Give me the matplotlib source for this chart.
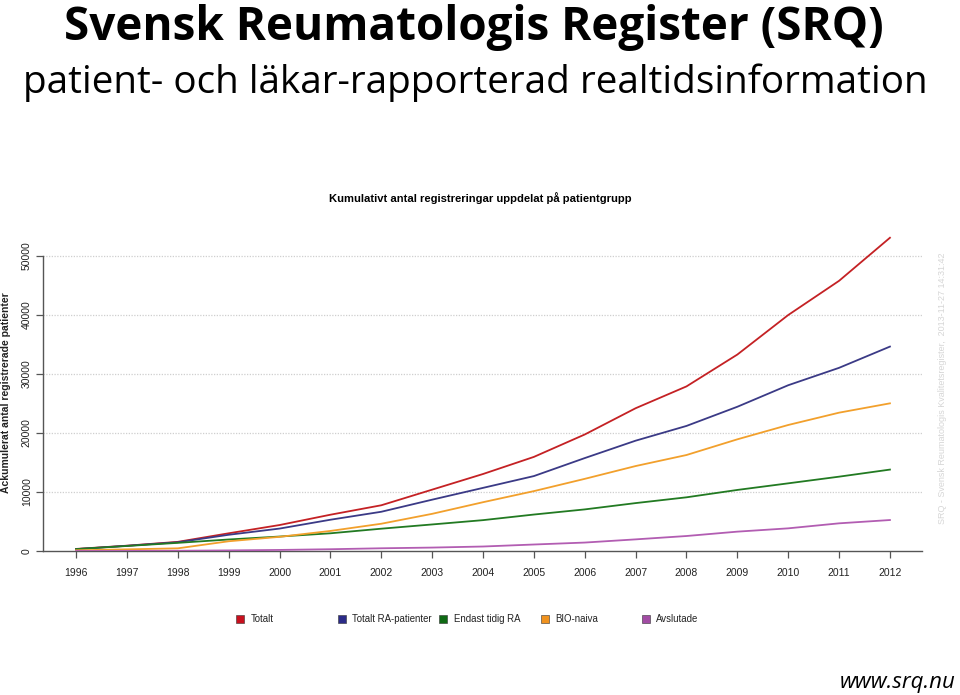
import matplotlib
matplotlib.use('Agg')
import matplotlib.pyplot as plt
from matplotlib.lines import Line2D

# data
years = list(range(1996, 2013))
totalt = [350, 900, 1550, 3000, 4400, 6150, 7750, 10400, 13050, 15950, 19750, 24200, 27900, 33300, 40000, 45800, 53100]
totalt_ra = [320, 880, 1480, 2750, 3800, 5300, 6650, 8700, 10700, 12700, 15750, 18700, 21200, 24450, 28100, 31050, 34650]
endast_tidig = [320, 850, 1380, 1950, 2450, 3000, 3780, 4500, 5230, 6180, 7050, 8120, 9100, 10350, 11470, 12600, 13800]
bio_naiva = [120, 280, 450, 1650, 2400, 3400, 4620, 6300, 8270, 10150, 12230, 14400, 16270, 18930, 21360, 23450, 25030]
avslutade = [0, 10, 40, 100, 180, 300, 460, 580, 760, 1100, 1430, 1970, 2540, 3280, 3840, 4690, 5250]

series = [
    ('Totalt', totalt, '#C42124', '#C8101E'),
    ('Totalt RA-patienter', totalt_ra, '#3B3A86', '#2B2B88'),
    ('Endast tidig RA', endast_tidig, '#227A22', '#0F6A14'),
    ('BIO-naiva', bio_naiva, '#F2A02C', '#F0921E'),
    ('Avslutade', avslutade, '#B25DB2', '#A24CA4'),
]
yticks = [0, 10000, 20000, 30000, 40000, 50000]

plt.rcParams['font.family'] = ['Liberation Sans', 'DejaVu Sans']

fig = plt.figure(figsize=(9.6, 6.95), dpi=100)
ax = fig.add_axes([0.0448, 0.2072, 0.9156, 0.4541])

for ytick in yticks[1:]:
    ax.axhline(ytick, color='#cfcfcf', lw=0.9, ls=(0, (1, 1.2)), zorder=1)

for name, vals, col, _ in series:
    ax.plot(years, vals, color=col, lw=1.3, zorder=3)

ax.set_xlim(1995.35, 2012.63)
ax.set_ylim(0, 53500)
ax.spines['top'].set_visible(False)
ax.spines['right'].set_visible(False)
ax.spines['left'].set_bounds(0, 50000)
for s in ('left', 'bottom'):
    ax.spines[s].set_color('#555555')
    ax.spines[s].set_linewidth(1.0)

ax.set_xticks(years)
ax.set_xticklabels([str(y) for y in years], fontsize=7.5)
ax.set_yticks(yticks)
ax.set_yticklabels([str(t) for t in yticks], fontsize=7.5, rotation=90, va='center')
ax.tick_params(axis='both', colors='#555555', labelcolor='#222222', length=5, width=0.9)
ax.tick_params(axis='x', pad=7)
ax.tick_params(axis='y', pad=3)

fig.text(0.0062, 0.4345, 'Ackumulerat antal registrerade patienter', rotation=90,
         ha='center', va='center', fontsize=7.5, fontweight='bold', color='#222222')

fig.text(0.5, 0.715, 'Kumulativt antal registreringar uppdelat på patientgrupp',
         ha='center', va='center', fontsize=8.1, fontweight='bold',
         family=['Liberation Sans Narrow', 'Liberation Sans'])

# legend with fixed column spacing
lx0, ldx, ly = 0.2505, 0.1057, 0.109
for i, (name, vals, _, sq) in enumerate(series):
    x = lx0 + i * ldx
    fig.add_artist(Line2D([x], [ly], marker='s', markersize=6, color=sq,
                          markeredgecolor='#333333', markeredgewidth=0.4,
                          transform=fig.transFigure))
    fig.text(x + 0.0105, ly, name, ha='left', va='center', fontsize=6.9,
             family=['Liberation Sans Narrow', 'Liberation Sans'], color='#222222')

# headings
fig.text(0.494, 0.9424, 'Svensk Reumatologis Register (SRQ)', ha='center', va='baseline',
         fontsize=33, fontweight='bold', family=['Open Sans', 'DejaVu Sans'])
fig.text(0.495, 0.866, 'patient- och läkar-rapporterad realtidsinformation', ha='center',
         va='baseline', fontsize=27.9, family=['Open Sans', 'DejaVu Sans'])

fig.text(0.982, 0.442, 'SRQ - Svensk Reumatologis Kvalitetsregister,  2013-11-27 14:31:42',
         rotation=90, ha='center', va='center', fontsize=6.5, color='#d6d6d6')

fig.text(0.995, 0.018, 'www.srq.nu', ha='right', va='center', fontsize=16,
         style='italic', family=['Open Sans', 'DejaVu Sans'])

fig.savefig('out.png', dpi=100)
